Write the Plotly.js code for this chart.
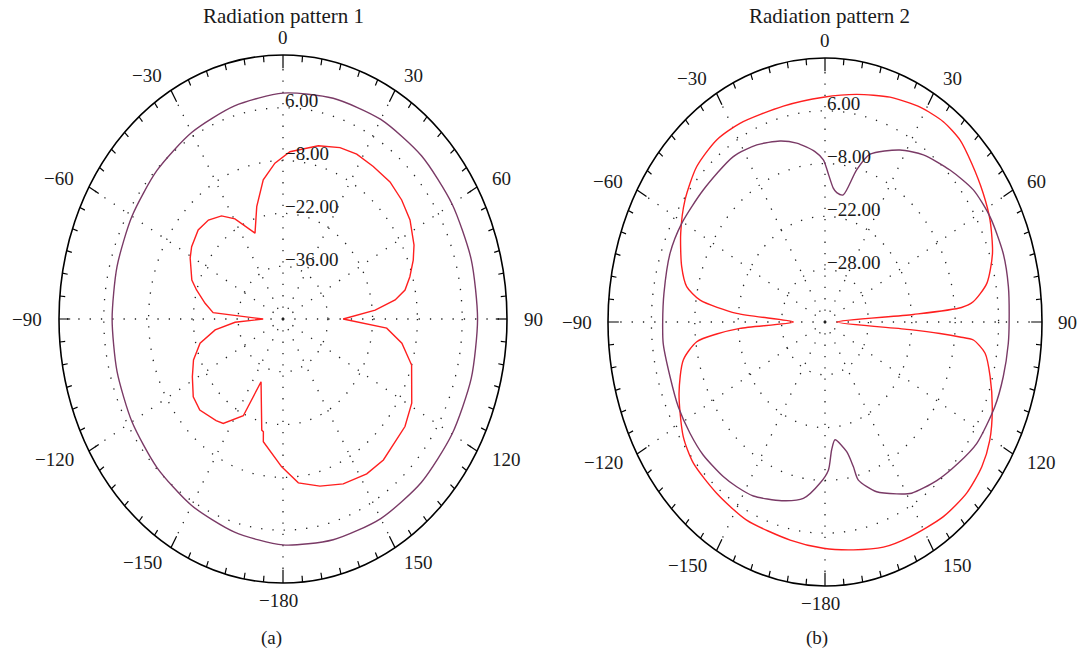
<!DOCTYPE html>
<html><head><meta charset="utf-8">
<script src="https://cdn.plot.ly/plotly-3.0.1.min.js"></script>
<style>html,body{margin:0;padding:0;background:#fff;}#chart{width:1078px;height:650px;}</style>
</head><body><div id="chart"></div>
<script>
// ---------------- data ----------------
const angleTickValues = [0, 30, 60, 90, 120, 150, 180, -150, -120, -90, -60, -30];
const angleTickLabels = ['0', '30', '60', '90', '120', '150', '−180', '−150', '−120', '−90', '−60', '−30'];
const ringValues = [6, -8, -22, -36];
const ringLabels1 = ['6.00', '−8.00', '−22.00', '−36.00'];
const ringLabels2 = ['6.00', '−8.00', '−22.00', '−28.00'];
const radialMin = -50, radialMax = 20;
const titles = ['Radiation pattern 1', 'Radiation pattern 2'];
const panelLabels = ['(a)', '(b)'];

// Pattern 1, red
const p1RedTheta = [-179.4, -173.3, -169.3, -168.4, -167.3, -157.6, -154.2, -146.0, -142.2, -132.9, -126.3, -118.4, -111.2, -103.9, -97.8, -93.3, -90,
  -85.6, -80.3, -74.1, -70.1, -60.9, -56.1, -48.3, -41.6, -35.1, -29.5, -21.0, -15.4, -9.5, -3.5, 2.8, 13.5, 21.4, 27.8, 34.9, 42.6, 49.6, 56.5, 64.4,
  69.0, 74.2, 78.6, 81.8, 85.3, 90, 93.2, 94.3, 99.8, 106.9, 119.0, 126.8, 140.0, 147.5, 156.7, 165.4, 173.7];
const p1RedDb = [-10.8, -15.0, -16.9, -19.5, -19.8, -32.0, -21.5, -16.6, -15.9, -14.5, -15.2, -17.8, -20.0, -23.3, -28.6, -35.0, -43.8,
  -28.1, -25.3, -21.9, -19.7, -16.8, -15.6, -14.5, -14.9, -16.6, -19.5, -25.6, -19.1, -12.6, -8.6, -5.6, -2.75, -1.2, -0.6, -0.7, -0.6, -1.3, -2.4, -4.6,
  -6.4, -8.8, -11.1, -14.6, -21.1, -31.2, -21.7, -17.5, -12.3, -8.0, -4.0, -2.4, -1.2, -1.3, -2.4, -4.2, -6.3];

// Pattern 1, purple
const p1PurpleTheta = [-180, -165, -150, -135, -120, -105, -90, -75, -60, -45, -30, -15, 0, 15, 30, 45, 60, 75, 90, 105, 120, 135, 150, 165];
const p1PurpleDb = [9.9, 8.5, 7.1, 5.7, 4.5, 3.7, 3.4, 3.7, 4.5, 5.7, 7.1, 8.5, 9.9, 10.6, 11.1, 11.2, 11.0, 10.9, 10.8, 10.9, 11.0, 11.2, 11.1, 10.6];

// Pattern 2, red
const p2RedTheta = [-179.5, -169.0, -154.3, -142.4, -131.4, -123.6, -111.9, -102.4, -97.2, -95.2, -93.5, -90, -85.4, -81.8, -78.1, -72.4, -63.2,
  -54.4, -45.1, -35.9, -27.5, -13.2, -0.5, 9.6, 19.4, 28.3, 35.7, 42.1, 48.4, 56.2, 63.1, 71.4, 78.9, 83.6, 85.0, 86.0, 90, 94.2, 94.7, 95.2, 95.7,
  99.1, 105.2, 113.4, 120.5, 127.2, 134.8, 143.5, 154.3, 162.5, 171.4];
const p2RedDb = [10.0, 8.9, 8.3, 7.3, 6.6, 4.9, 0.75, -3.2, -8.3, -14.9, -22.5, -39.8, -21.4, -9.3, -4.4, -1.5, 2.15,
  5.55, 8.4, 9.6, 9.4, 8.8, 9.6, 11.2, 13.2, 14.7, 15.4, 15.0, 13.3, 11.4, 9.7, 7.0, 3.2, -1.9, -5.8, -21.4, -46.2, -22.5, -12.8, -6.3, -1.9,
  2.3, 5.2, 8.8, 11.7, 13.5, 14.4, 14.2, 13.2, 12.6, 11.1];

// Pattern 2, purple
const p2PurpleTheta = [-177.8, -171.5, -163.6, -153.4, -146.9, -141.3, -131.9, -124.1, -115.4, -106.2, -96.2, -90, -81.7, -70.0, -60.5, -48.3,
  -34.0, -25.1, -16.8, -10.9, -4.1, -0.7, 1.5, 4.3, 6.3, 9.9, 14.2, 18.1, 27.9, 35.6, 45.0, 53.8, 62.3, 72.4, 81.0, 90, 95.5, 104.1, 112.3,
  123.3, 131.1, 139.4, 148.4, 153.1, 159.7, 165.6, 166.6, 168.5, 174.1, 176.4, 178.4];
const p2PurpleDb = [-7.2, -2.7, -0.6, 1.6, 2.15, 2.5, 2.8, 2.6, 2.4, 2.05, 2.5, 2.36, 2.5, 3.2, 3.1, 2.6,
  2.9, 1.85, 0.14, -1.7, -4.7, -7.0, -10.6, -14.4, -15.5, -15.8, -8.4, -3.2, 1.6, 4.5, 7.0, 9.3, 10.1, 10.3, 9.9, 9.4, 9.4, 9.3, 9.2,
  8.6, 7.0, 5.4, 3.3, 1.1, -2.0, -6.7, -10.6, -14.9, -18.6, -16.0, -10.7];

// ---------------- geometry / style ----------------
const W = 1078, H = 650;
const panels = [
  {cx: 283, cy: 319, a: 224, b: 264, xa: 'x', ya: 'y', ringLabels: ringLabels1, titleX: 283, labelX: 271},
  {cx: 825, cy: 322, a: 217, b: 264, xa: 'x2', ya: 'y2', ringLabels: ringLabels2, titleX: 829, labelX: 817}
];
const R = 1.15;
const RED = '#ff1f1f', PURPLE = '#7a3a66';
const FONT = 'Liberation Serif, Times New Roman, serif';
const TXT = '#1a1a1a';

function rho(db) { return (db - radialMin) / (radialMax - radialMin); }
function toXY(thetas, dbs, close) {
  const xs = [], ys = [];
  thetas.forEach((t, i) => {
    const r = rho(dbs[i]), a = t * Math.PI / 180;
    xs.push(r * Math.sin(a)); ys.push(r * Math.cos(a));
  });
  if (close) { xs.push(xs[0]); ys.push(ys[0]); }
  return {x: xs, y: ys};
}

const traces = [];
const shapes = [];
const annotations = [];
const layout = {
  width: W, height: H, margin: {l: 0, r: 0, t: 0, b: 0},
  paper_bgcolor: '#fff', plot_bgcolor: 'rgba(0,0,0,0)', showlegend: false,
  font: {family: FONT, color: TXT}
};

const series = [
  [[p1RedTheta, p1RedDb, RED, 'linear'], [p1PurpleTheta, p1PurpleDb, PURPLE, 'spline']],
  [[p2RedTheta, p2RedDb, RED, 'spline'], [p2PurpleTheta, p2PurpleDb, PURPLE, 'spline']]
];

panels.forEach((p, k) => {
  const sfx = k === 0 ? '' : '2';
  layout['xaxis' + sfx] = {
    range: [-R, R], domain: [(p.cx - R * p.a) / W, (p.cx + R * p.a) / W],
    visible: false, showgrid: false, zeroline: false, fixedrange: true, anchor: p.ya
  };
  layout['yaxis' + sfx] = {
    range: [-R, R], domain: [(H - (p.cy + R * p.b)) / H, (H - (p.cy - R * p.b)) / H],
    visible: false, showgrid: false, zeroline: false, fixedrange: true, anchor: p.xa
  };
  const base = {xref: p.xa, yref: p.ya};
  // dotted rings
  ringValues.forEach(v => {
    const r = rho(v);
    shapes.push(Object.assign({type: 'circle', x0: -r, x1: r, y0: -r, y1: r, layer: 'below',
      line: {color: '#222', width: 1.3, dash: '1.3px,10px'}}, base));
  });
  // dotted spokes every 30 degrees
  for (let t = 0; t < 360; t += 30) {
    const a = t * Math.PI / 180;
    shapes.push(Object.assign({type: 'line', x0: 0, y0: 0, x1: 0.97 * Math.sin(a), y1: 0.97 * Math.cos(a), layer: 'below',
      line: {color: '#222', width: 1.3, dash: '1.3px,10px'}}, base));
  }
  // outer ellipse
  shapes.push(Object.assign({type: 'circle', x0: -1, x1: 1, y0: -1, y1: 1, layer: 'above',
    line: {color: '#000', width: 1.6}}, base));
  // ticks every 5 degrees
  for (let t = 0; t < 360; t += 5) {
    const a = t * Math.PI / 180;
    const len = (t % 30 === 0) ? 0.05 : 0.024;
    shapes.push(Object.assign({type: 'line', layer: 'above',
      x0: Math.sin(a), y0: Math.cos(a), x1: (1 - len) * Math.sin(a), y1: (1 - len) * Math.cos(a),
      line: {color: '#000', width: 1.2}}, base));
  }
  // curves
  series[k].forEach(([th, db, col, shp]) => {
    const xy = toXY(th, db, true);
    traces.push({type: 'scatter', mode: 'lines', x: xy.x, y: xy.y, xaxis: p.xa, yaxis: p.ya,
      line: {color: col, width: 1.4, shape: shp, smoothing: 0.7}, hoverinfo: 'skip'});
  });
  // angle labels
  angleTickValues.forEach((t, i) => {
    const a = t * Math.PI / 180, rl = 1.065;
    let xanchor = 'center';
    if (t > 0 && t < 180) xanchor = 'left';
    if (t < 0 && t > -180) xanchor = 'right';
    annotations.push(Object.assign({x: rl * Math.sin(a), y: rl * Math.cos(a), text: angleTickLabels[i],
      showarrow: false, xanchor: xanchor, yanchor: 'middle', xshift: (t === 180 ? -5 : 0),
      font: {family: FONT, size: 19, color: TXT}}, base));
  });
  // ring labels
  ringValues.forEach((v, i) => {
    annotations.push(Object.assign({x: 0, y: rho(v), text: p.ringLabels[i], showarrow: false,
      xanchor: 'left', yanchor: 'middle', xshift: 0, yshift: 7,
      font: {family: FONT, size: 19, color: TXT}}, base));
  });
  // title and panel label
  annotations.push({xref: 'paper', yref: 'paper', x: p.titleX / W, y: 1 - 16 / H, text: titles[k], showarrow: false,
    xanchor: 'center', yanchor: 'middle', font: {family: FONT, size: 21, color: TXT}});
  annotations.push({xref: 'paper', yref: 'paper', x: p.labelX / W, y: 1 - 638 / H, text: panelLabels[k], showarrow: false,
    xanchor: 'center', yanchor: 'middle', font: {family: FONT, size: 19, color: TXT}});
});

layout.shapes = shapes;
layout.annotations = annotations;
Plotly.newPlot('chart', traces, layout, {staticPlot: true, displayModeBar: false});
</script>
</body></html>
